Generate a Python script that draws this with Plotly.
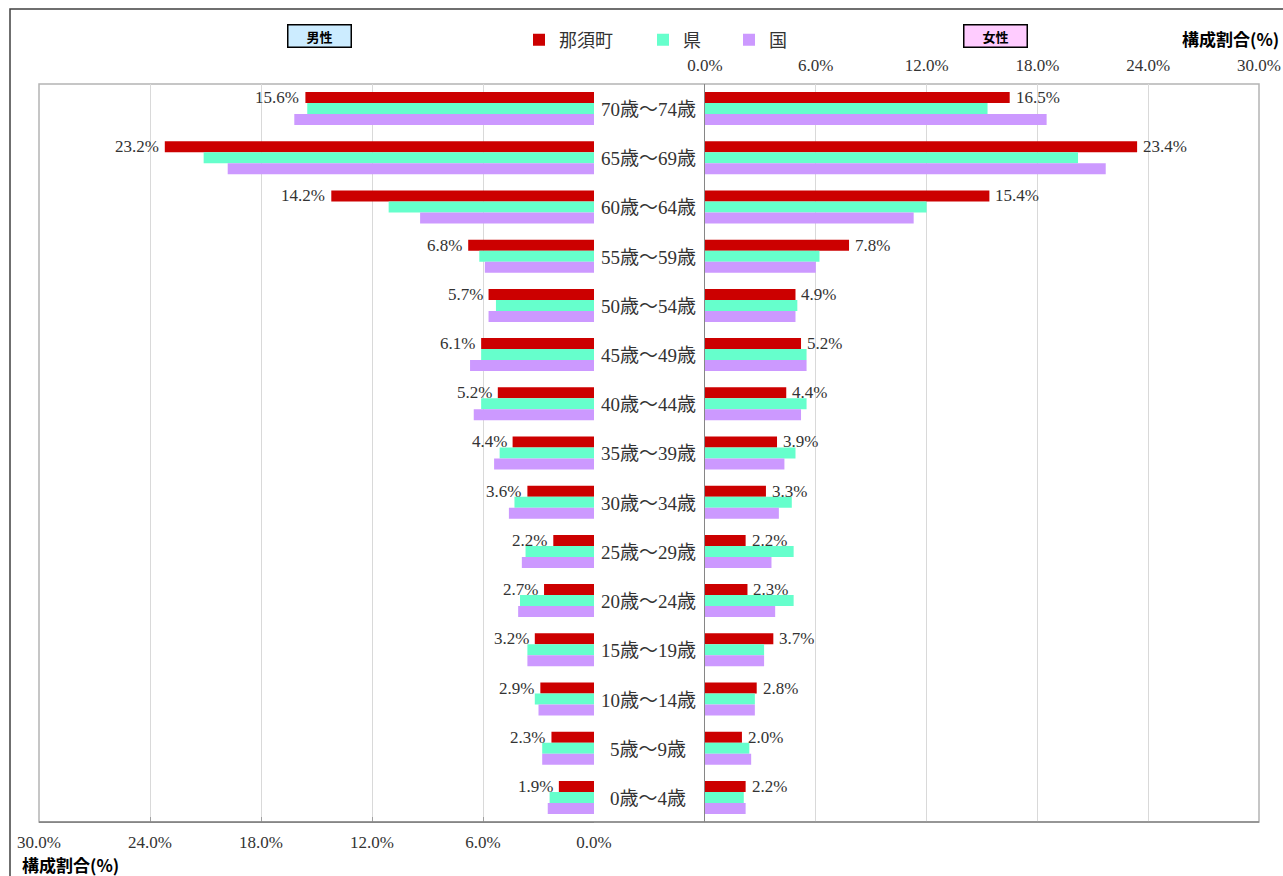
import plotly.graph_objects as go

W, H = 1283, 876

ages = ["70歳～74歳", "65歳～69歳", "60歳～64歳", "55歳～59歳", "50歳～54歳",
        "45歳～49歳", "40歳～44歳", "35歳～39歳", "30歳～34歳", "25歳～29歳",
        "20歳～24歳", "15歳～19歳", "10歳～14歳", "5歳～9歳", "0歳～4歳"]

male_nasu = [15.6, 23.2, 14.2, 6.8, 5.7, 6.1, 5.2, 4.4, 3.6, 2.2, 2.7, 3.2, 2.9, 2.3, 1.9]
male_ken = [15.5, 21.1, 11.1, 6.2, 5.3, 6.1, 6.1, 5.1, 4.3, 3.7, 4.0, 3.6, 3.2, 2.8, 2.4]
male_kuni = [16.2, 19.8, 9.4, 5.9, 5.7, 6.7, 6.5, 5.4, 4.6, 3.9, 4.1, 3.6, 3.0, 2.8, 2.5]

female_nasu = [16.5, 23.4, 15.4, 7.8, 4.9, 5.2, 4.4, 3.9, 3.3, 2.2, 2.3, 3.7, 2.8, 2.0, 2.2]
female_ken = [15.3, 20.2, 12.0, 6.2, 5.0, 5.5, 5.5, 4.9, 4.7, 4.8, 4.8, 3.2, 2.7, 2.4, 2.1]
female_kuni = [18.5, 21.7, 11.3, 6.0, 4.9, 5.5, 5.2, 4.3, 4.0, 3.6, 3.8, 3.2, 2.7, 2.5, 2.2]

series_names = ["那須町", "県", "国"]
colors = ["#CC0000", "#66FFCC", "#CC99FF"]
tick_vals = [0, 6, 12, 18, 24, 30]
tick_text = ["0.0%", "6.0%", "12.0%", "18.0%", "24.0%", "30.0%"]

SERIF = "Liberation Serif, Noto Sans CJK JP, serif"
GOTHIC = "Noto Sans CJK JP, sans-serif"
TXT = "#333333"


def px_x(p):
    return p / W


def px_y(p):
    return 1 - p / H


fig = go.Figure()

male = [male_nasu, male_ken, male_kuni]
female = [female_nasu, female_ken, female_kuni]
legend_ids = ["legend", "legend2", "legend3"]
for i, name in enumerate(series_names):
    fig.add_trace(go.Bar(
        x=male[i], y=ages, orientation="h", name=name, marker_color=colors[i],
        marker_line_width=0, xaxis="x", yaxis="y", legend=legend_ids[i],
        showlegend=True, hoverinfo="x+y"))
for i, name in enumerate(series_names):
    fig.add_trace(go.Bar(
        x=female[i], y=ages, orientation="h", name=name, marker_color=colors[i],
        marker_line_width=0, xaxis="x2", yaxis="y2", showlegend=False,
        hoverinfo="x+y"))

ydom = [1 - 822 / H, 1 - 84 / H]
axis_common = dict(
    tickvals=tick_vals, ticktext=tick_text,
    showgrid=True, gridcolor="#d9d9d9", gridwidth=1, zeroline=False, automargin=False,
    tickfont=dict(family=SERIF, size=17, color=TXT), fixedrange=True,
)


def legend_at(cx):
    # cx = centre of the legend square, in pixels
    return dict(orientation="h", x=px_x(cx - 19), y=px_y(40), xanchor="left",
                yanchor="middle", font=dict(family=GOTHIC, size=18, color=TXT),
                bgcolor="rgba(0,0,0,0)", itemclick=False, itemdoubleclick=False)


fig.update_layout(
    width=W, height=H,
    margin=dict(l=0, r=0, t=0, b=0, autoexpand=False),
    paper_bgcolor="white", plot_bgcolor="white",
    barmode="group", bargap=0.33, bargroupgap=0,
    xaxis=dict(domain=[px_x(39), px_x(594)], range=[30, 0], anchor="y", side="bottom",
               ticks="inside", ticklen=5, tickcolor="#a0a0a0",
               showline=True, linecolor="#868686", ticklabelstandoff=5, **axis_common),
    xaxis2=dict(domain=[px_x(705), px_x(1259)], range=[0, 30], anchor="y2", side="top",
                ticks="", ticklabelstandoff=9, **axis_common),
    yaxis=dict(domain=ydom, anchor="x", type="category", autorange="reversed",
               showticklabels=False, showgrid=False, zeroline=False, fixedrange=True,
               automargin=False),
    yaxis2=dict(domain=ydom, anchor="x2", type="category", autorange="reversed",
                showticklabels=False, showgrid=False, zeroline=False, fixedrange=True,
                automargin=False, showline=True, linecolor="#868686"),
    legend=legend_at(538),
    legend2=legend_at(662),
    legend3=legend_at(748),
    showlegend=True,
)

shapes = [
    # outer chart frame
    dict(type="rect", xref="paper", yref="paper", x0=px_x(10), x1=px_x(1300),
         y0=px_y(900), y1=px_y(9), line=dict(color="#404040", width=1.5)),
    # plot area frame
    dict(type="rect", xref="paper", yref="paper", x0=px_x(39), x1=px_x(1259),
         y0=px_y(822), y1=px_y(84), line=dict(color="#b4b4b4", width=1.5), layer="below"),
    dict(type="line", xref="paper", yref="paper", x0=px_x(39), x1=px_x(1259),
         y0=px_y(822), y1=px_y(822), line=dict(color="#868686", width=1.5)),
]

annotations = []
for a in ages:
    annotations.append(dict(
        x=px_x(648), xref="paper", y=a, yref="y", text=a, showarrow=False,
        xanchor="center", yanchor="middle", yshift=-1,
        font=dict(family=SERIF, size=19, color=TXT)))

# value labels on the 那須町 bars
for a, v in zip(ages, male_nasu):
    annotations.append(dict(
        x=v, xref="x", y=a, yref="y", text=f"{v:.1f}%", showarrow=False,
        xanchor="right", yanchor="middle", xshift=-4, yshift=11,
        font=dict(family=SERIF, size=17, color=TXT)))
for a, v in zip(ages, female_nasu):
    annotations.append(dict(
        x=v, xref="x2", y=a, yref="y2", text=f"{v:.1f}%", showarrow=False,
        xanchor="left", yanchor="middle", xshift=4, yshift=11,
        font=dict(family=SERIF, size=17, color=TXT)))

annotations += [
    dict(x=px_x(20), y=px_y(864), xref="paper", yref="paper", text="<b>構成割合(%)</b>",
         showarrow=False, xanchor="left", yanchor="middle",
         font=dict(family=GOTHIC, size=17, color="black")),
    dict(x=px_x(1281), y=px_y(38), xref="paper", yref="paper", text="<b>構成割合(%)</b>",
         showarrow=False, xanchor="right", yanchor="middle",
         font=dict(family=GOTHIC, size=17, color="black")),
    dict(x=px_x(319.5), y=px_y(36), xref="paper", yref="paper", text="<b>男性</b>",
         showarrow=False, xanchor="center", yanchor="middle", width=62, height=21,
         bgcolor="#CCECFF", bordercolor="black", borderwidth=1.5, borderpad=0,
         font=dict(family=GOTHIC, size=13, color="black")),
    dict(x=px_x(995), y=px_y(36), xref="paper", yref="paper", text="<b>女性</b>",
         showarrow=False, xanchor="center", yanchor="middle", width=62, height=21,
         bgcolor="#FFCCFF", bordercolor="black", borderwidth=1.5, borderpad=0,
         font=dict(family=GOTHIC, size=13, color="black")),
]

fig.update_layout(shapes=shapes, annotations=annotations)

fig.write_html("out.html", config={"displayModeBar": False},
               post_script="document.body.style.margin='0';document.body.style.overflow='hidden';")
